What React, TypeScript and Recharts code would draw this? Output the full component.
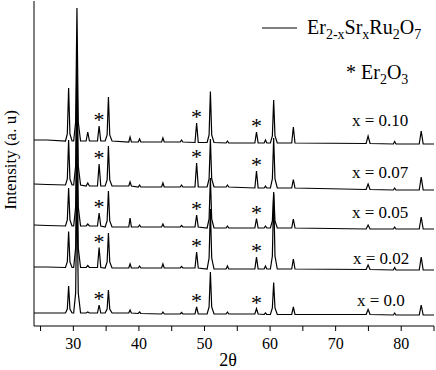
import React from "react";
import { LineChart, Line, XAxis, YAxis, ReferenceDot } from "recharts";

// XRD patterns, 2θ vs intensity (a.u.)
// each point: [2θ, intensity above the trace's own baseline]
const s000: [number, number][] = [
  [24, 2], [26, 2],
  [28.8, 2], [29.08, 6], [29.28, 29], [29.48, 6], [29.8, 2],
  [30.05, 2], [30.35, 22], [30.55, 132], [30.75, 22], [31.1, 2],
  [31.95, 2], [32.2, 3], [32.45, 2],
  [33.68, 2], [33.93, 10], [34.18, 2],
  [34.85, 2], [35.15, 6], [35.35, 25], [35.55, 6], [35.9, 2],
  [38.45, 2], [38.65, 5], [38.85, 2],
  [39.9, 1.5], [40.1, 3], [40.3, 1.5],
  [43.46, 1], [43.66, 3], [43.86, 1],
  [46.3, 1], [46.5, 2.5], [46.7, 1],
  [48.55, 1], [48.8, 8], [49.05, 1],
  [50.4, 1], [50.7, 8], [50.9, 43], [51.1, 8], [51.45, 1],
  [53.3, 1], [53.5, 3], [53.7, 1],
  [57.68, 1], [57.93, 6.5], [58.18, 1],
  [59.1, 0.5], [59.3, 2], [59.5, 0.5],
  [60.05, 0.5], [60.35, 7], [60.55, 32.5], [60.75, 7], [61.1, 0.5],
  [63.3, 0.5], [63.55, 8], [63.8, 0.5],
  [74.65, 0.5], [74.95, 5.5], [75.25, 0.5],
  [78.8, 0], [79, 2], [79.2, 0],
  [82.75, 0], [83.05, 10], [83.35, 0],
  [85, 0],
];

const s002: [number, number][] = [
  [24, 3], [26, 3],
  [28.8, 2.5], [29.08, 8], [29.28, 38.5], [29.48, 8], [29.8, 2.5],
  [30.05, 2.5], [30.35, 22], [30.55, 132.5], [30.75, 22], [31.1, 2.5],
  [31.95, 2.5], [32.2, 4.5], [32.45, 2.5],
  [33.68, 2.5], [33.93, 22.5], [34.18, 2.5],
  [34.85, 2], [35.15, 8], [35.35, 37], [35.55, 8], [35.9, 2],
  [38.45, 2], [38.65, 6], [38.85, 2],
  [39.9, 2], [40.1, 4], [40.3, 2],
  [43.46, 2], [43.66, 6], [43.86, 2],
  [46.3, 2], [46.5, 3.5], [46.7, 2],
  [48.55, 2], [48.8, 18], [49.05, 2],
  [50.4, 1], [50.7, 12], [50.9, 61], [51.1, 12], [51.45, 1],
  [53.3, 1], [53.5, 4], [53.7, 1],
  [57.68, 1], [57.93, 13], [58.18, 1],
  [59.1, 1], [59.3, 4], [59.5, 1],
  [60.05, 1], [60.35, 14], [60.55, 76], [60.75, 14], [61.1, 1],
  [63.3, 1], [63.55, 11], [63.8, 1],
  [74.65, 0.5], [74.95, 5], [75.25, 0.5],
  [78.8, 0], [79, 2.5], [79.2, 0],
  [82.75, 0], [83.05, 13], [83.35, 0],
  [85, 0],
];

const s005: [number, number][] = [
  [24, 4], [26, 3.5],
  [28.8, 3], [29.08, 9], [29.28, 41], [29.48, 9], [29.8, 3],
  [30.05, 3], [30.35, 22], [30.55, 133], [30.75, 22], [31.1, 3],
  [31.95, 3], [32.2, 5], [32.45, 3],
  [33.68, 3], [33.93, 16], [34.18, 3],
  [34.85, 2], [35.15, 8], [35.35, 38], [35.55, 8], [35.9, 2],
  [38.45, 2], [38.65, 11], [38.85, 2],
  [39.9, 2], [40.1, 4], [40.3, 2],
  [43.46, 2], [43.66, 5], [43.86, 2],
  [46.3, 2], [46.5, 3.5], [46.7, 2],
  [48.55, 2], [48.8, 14], [49.05, 2],
  [50.4, 1], [50.7, 10], [50.9, 51], [51.1, 10], [51.45, 1],
  [53.3, 1], [53.5, 3], [53.7, 1],
  [57.68, 1], [57.93, 10.5], [58.18, 1],
  [59.1, 1], [59.3, 3], [59.5, 1],
  [60.05, 1], [60.35, 8], [60.55, 37], [60.75, 8], [61.1, 1],
  [63.3, 1], [63.55, 10], [63.8, 1],
  [74.65, 0], [74.95, 4], [75.25, 0],
  [78.8, 0], [79, 2], [79.2, 0],
  [82.75, 0], [83.05, 12], [83.35, 0],
  [85, 0],
];

const s007: [number, number][] = [
  [24, 6], [26, 5.5],
  [28.8, 5], [29.08, 11], [29.28, 50], [29.48, 11], [29.8, 5],
  [30.05, 5], [30.35, 24], [30.55, 135], [30.75, 24], [31.1, 5],
  [31.95, 4], [32.2, 7], [32.45, 4],
  [33.68, 4], [33.93, 26], [34.18, 4],
  [34.85, 4], [35.15, 10], [35.35, 44], [35.55, 10], [35.9, 4],
  [38.45, 4], [38.65, 8], [38.85, 4],
  [39.9, 3], [40.1, 5], [40.3, 3],
  [43.46, 3], [43.66, 7], [43.86, 3],
  [46.3, 3], [46.5, 5], [46.7, 3],
  [48.55, 3], [48.8, 27], [49.05, 3],
  [50.4, 3], [50.7, 11], [50.9, 51], [51.1, 11], [51.45, 3],
  [53.3, 3], [53.5, 5], [53.7, 3],
  [57.68, 2], [57.93, 19], [58.18, 2],
  [59.1, 2], [59.3, 4], [59.5, 2],
  [60.05, 2], [60.35, 11], [60.55, 52], [60.75, 11], [61.1, 2],
  [63.3, 2], [63.55, 10.5], [63.8, 2],
  [74.65, 0.5], [74.95, 6], [75.25, 0.5],
  [78.8, 0], [79, 2], [79.2, 0],
  [82.75, 0], [83.05, 13], [83.35, 0],
  [85, 0],
];

const s010: [number, number][] = [
  [24, 4], [26, 4],
  [28.8, 3], [29.08, 10], [29.28, 56], [29.48, 10], [29.8, 3],
  [30.05, 3], [30.35, 22], [30.55, 136], [30.75, 22], [31.1, 3],
  [31.95, 3], [32.2, 12], [32.45, 3],
  [33.68, 3], [33.93, 18], [34.18, 3],
  [34.85, 3], [35.15, 9], [35.35, 47], [35.55, 9], [35.9, 3],
  [38.45, 2], [38.65, 7], [38.85, 2],
  [39.9, 2], [40.1, 5], [40.3, 2],
  [43.46, 2], [43.66, 6], [43.86, 2],
  [46.3, 2], [46.5, 4], [46.7, 2],
  [48.55, 1.5], [48.8, 21], [49.05, 1.5],
  [50.4, 1.5], [50.7, 9], [50.9, 52.5], [51.1, 9], [51.45, 1.5],
  [53.3, 1], [53.5, 3], [53.7, 1],
  [57.68, 1], [57.93, 12], [58.18, 1],
  [59.1, 1], [59.3, 4], [59.5, 1],
  [60.05, 1], [60.35, 8], [60.55, 44], [60.75, 8], [61.1, 1],
  [63.3, 1], [63.55, 17], [63.8, 1],
  [74.65, 0.5], [74.95, 8], [75.25, 0.5],
  [78.8, 0], [79, 2.5], [79.2, 0],
  [82.75, 0], [83.05, 13], [83.35, 0],
  [85, 0],
];

const seriesList = [s000, s002, s005, s007, s010];
const seriesNames = ["x = 0.0", "x = 0.02", "x = 0.05", "x = 0.07", "x = 0.10"];
// vertical stacking offset of each trace
const stackOffsets = [11, 56, 97, 136, 182];
// Er2O3 reflections marked with *
const er2o3Peaks = [33.93, 48.8, 57.93];
const xTicks = [25, 30, 35, 40, 45, 50, 55, 60, 65, 70, 75, 80, 85];

const FONT = '"Liberation Serif", "Times New Roman", serif';

const buildData = (pts: [number, number][], off: number) =>
  pts.map(([t, v]) => ({ t, v: v + off }));

const Star = (props: any) => (
  <text
    x={props.cx}
    y={props.cy + 1}
    textAnchor="middle"
    fontFamily={FONT}
    fontSize={22}
    fill="#000"
  >
    *
  </text>
);

// label positions (px) for the sample names, bottom to top
const nameX = [357, 353, 352, 352, 352];
const nameY = [306, 264, 218, 178, 126];

export default function App() {
  return (
    <div style={{ position: "absolute", left: 0, top: 0, width: 436, height: 370, background: "#fff" }}>
      <LineChart width={436} height={370} margin={{ top: 1, right: 2, bottom: 0, left: 0 }}>
        <XAxis
          xAxisId="b"
          type="number"
          dataKey="t"
          domain={[24, 85]}
          ticks={xTicks}
          interval={0}
          allowDataOverflow
          tickFormatter={(v: number) => (v % 10 === 0 && v < 85 ? String(v) : "")}
          tickSize={5}
          tickMargin={7}
          height={44}
          stroke="#000"
          tick={{ fill: "#000", fontSize: 16, fontFamily: FONT }}
        />
        <XAxis
          xAxisId="t"
          orientation="top"
          type="number"
          dataKey="t"
          domain={[24, 85]}
          tick={false}
          tickLine={false}
          height={0}
          stroke="#000"
        />
        <YAxis yAxisId="l" type="number" domain={[0, 325]} tick={false} tickLine={false} width={34} stroke="#000" />
        <YAxis
          yAxisId="r"
          orientation="right"
          type="number"
          domain={[0, 325]}
          tick={false}
          tickLine={false}
          width={0}
          stroke="#000"
        />
        {seriesList.map((s, i) => (
          <Line
            key={seriesNames[i]}
            xAxisId="b"
            yAxisId="l"
            data={buildData(s, stackOffsets[i])}
            dataKey="v"
            type="linear"
            stroke="#000"
            strokeWidth={1.2}
            dot={false}
            isAnimationActive={false}
          />
        ))}
        {seriesList.map((s, i) =>
          er2o3Peaks.map((p) => {
            const pt = s.find((d) => d[0] === p);
            return (
              <ReferenceDot
                key={`${i}-${p}`}
                xAxisId="b"
                yAxisId="l"
                x={p}
                y={(pt ? pt[1] : 0) + stackOffsets[i]}
                r={0}
                shape={Star}
              />
            );
          })
        )}
      </LineChart>
      <svg
        width={436}
        height={370}
        style={{ position: "absolute", left: 0, top: 0, pointerEvents: "none" }}
        fontFamily={FONT}
        fill="#000"
      >
        <line x1={262} x2={297} y1={28} y2={28} stroke="#000" strokeWidth={1} />
        <text x={307} y={33.5} fontSize={20}>
          Er<tspan fontSize={14} dy={5}>2-x</tspan>
          <tspan dy={-5}>Sr</tspan>
          <tspan fontSize={14} dy={5}>x</tspan>
          <tspan dy={-5}>Ru</tspan>
          <tspan fontSize={14} dy={5}>2</tspan>
          <tspan dy={-5}>O</tspan>
          <tspan fontSize={14} dy={5}>7</tspan>
        </text>
        <text x={346} y={79} fontSize={20}>
          * Er<tspan fontSize={14} dy={5}>2</tspan>
          <tspan dy={-5}>O</tspan>
          <tspan fontSize={14} dy={5}>3</tspan>
        </text>
        {seriesNames.map((n, i) => (
          <text key={n} x={nameX[i]} y={nameY[i]} fontSize={17}>
            {n}
          </text>
        ))}
        <text x={228} y={366} fontSize={18} textAnchor="middle">
          2θ
        </text>
        <text x={16} y={160} fontSize={17} textAnchor="middle" transform="rotate(-90 16 160)">
          Intensity (a. u)
        </text>
      </svg>
    </div>
  );
}
